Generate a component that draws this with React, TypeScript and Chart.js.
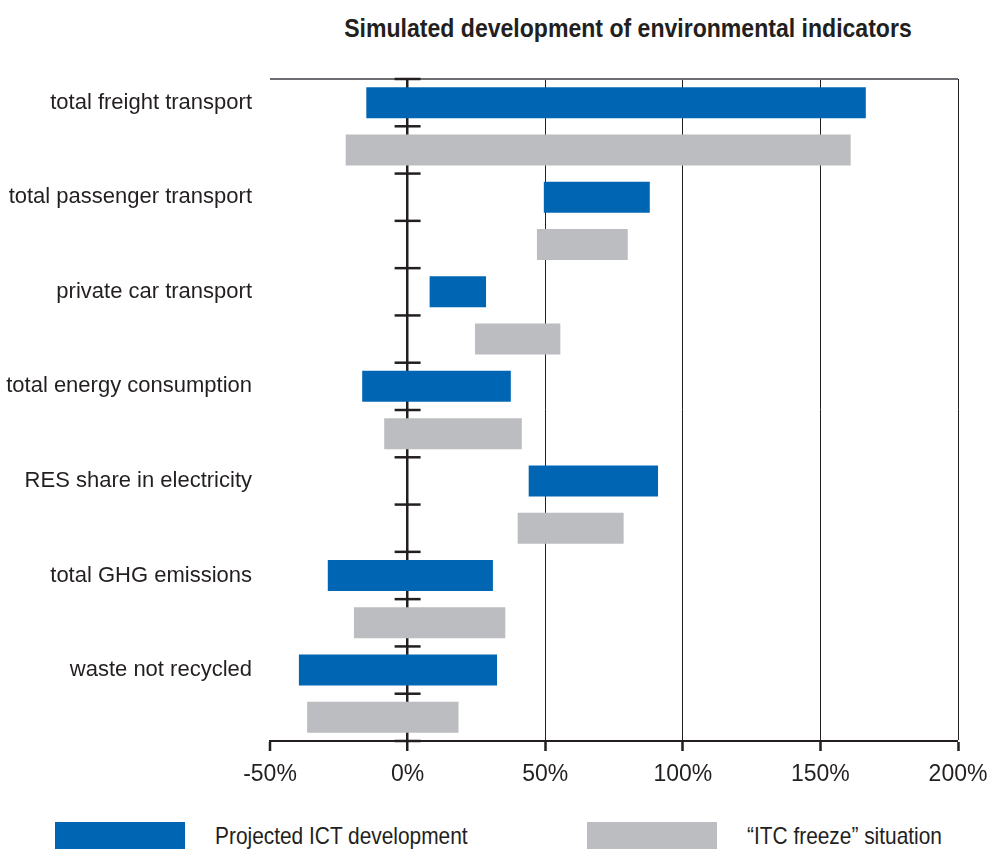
import React, { useEffect, useRef } from "react";
import { Chart, registerables } from "chart.js";

Chart.register(...registerables);

const categories = [
  "total freight transport",
  "total passenger transport",
  "private car transport",
  "total energy consumption",
  "RES share in electricity",
  "total GHG emissions",
  "waste not recycled",
];
const ictLow = [-15, 49.5, 8, -16.5, 44, -29, -39.5];
const ictHigh = [166.5, 88, 28.5, 37.5, 91, 31, 32.5];
const freezeLow = [-22.5, 47, 24.5, -8.5, 40, -19.5, -36.5];
const freezeHigh = [161, 80, 55.5, 41.5, 78.5, 35.5, 18.5];
const xTicks = [-50, 0, 50, 100, 150, 200];

const seriesNames = ["Projected ICT development", "\u201CITC freeze\u201D situation"];
const BLUE = "#0066b3";
const GREY = "#bcbdc0";
const INK = "#231f20";
const FONT = "'Liberation Sans', Arial, sans-serif";

const framePlugin = {
  id: "frame",
  beforeDatasetsDraw(chart: any) {
    const { ctx, chartArea, scales } = chart;
    const x = scales.x;
    const y = scales.y;
    ctx.save();
    ctx.strokeStyle = "#6d6e71";
    ctx.lineWidth = 2;
    ctx.beginPath();
    ctx.moveTo(chartArea.left, chartArea.top);
    ctx.lineTo(chartArea.right, chartArea.top);
    ctx.stroke();
    const x0 = x.getPixelForValue(0);
    const step = y.getPixelForValue(1) - y.getPixelForValue(0);
    const n = y.getLabels().length;
    ctx.strokeStyle = INK;
    ctx.lineWidth = 2.5;
    for (let k = 0; k <= n; k++) {
      const yy = y.getPixelForValue(0) - step / 2 + k * step;
      ctx.beginPath();
      ctx.moveTo(x0 - 13, yy);
      ctx.lineTo(x0 + 13, yy);
      ctx.stroke();
    }
    ctx.restore();
  },
};

export default function App() {
  const ref = useRef<HTMLCanvasElement>(null);
  useEffect(() => {
    const rowLabels = categories.flatMap((c) => [c, ""]);
    const ictData = categories.flatMap((_, i) => [[ictLow[i], ictHigh[i]], null]);
    const freezeData = categories.flatMap((_, i) => [null, [freezeLow[i], freezeHigh[i]]]);
    const chart = new Chart(ref.current as HTMLCanvasElement, {
      type: "bar",
      data: {
        labels: rowLabels,
        datasets: [
          {
            label: seriesNames[0],
            data: ictData as any,
            backgroundColor: BLUE,
            grouped: false,
            barPercentage: 0.655,
            categoryPercentage: 1,
          } as any,
          {
            label: seriesNames[1],
            data: freezeData as any,
            backgroundColor: GREY,
            grouped: false,
            barPercentage: 0.655,
            categoryPercentage: 1,
          } as any,
        ],
      },
      options: {
        indexAxis: "y",
        responsive: false,
        animation: false,
        layout: { padding: { top: 79, right: 30, left: 0, bottom: 0 } },
        plugins: {
          legend: { display: false },
          tooltip: { enabled: false },
          title: { display: false },
        },
        scales: {
          x: {
            type: "linear",
            min: xTicks[0],
            max: xTicks[xTicks.length - 1],
            afterBuildTicks: (s: any) => {
              s.ticks = xTicks.map((v) => ({ value: v }));
            },
            afterFit: (s: any) => {
              s.height = 59;
              s.paddingLeft = 0;
              s.paddingRight = 0;
            },
            ticks: {
              callback: (v: any) => v + "%",
              color: INK,
              font: { family: FONT, size: 23 },
              padding: 10,
              maxRotation: 0,
            },
            grid: {
              color: INK,
              lineWidth: (c: any) => (c.tick && c.tick.value === -50 ? 0 : c.tick && c.tick.value === 0 ? 2.5 : 1),
              tickLength: 10,
              tickWidth: 2.5,
              tickColor: INK,
            },
            border: { display: true, color: INK, width: 2 },
          },
          y: {
            type: "category",
            afterFit: (s: any) => {
              s.width = 270;
              s.paddingTop = 0;
              s.paddingBottom = 0;
            },
            ticks: {
              autoSkip: false,
              color: INK,
              font: { family: FONT, size: 22 },
              padding: 18,
            },
            grid: { display: false, drawTicks: false, tickLength: 0 },
            border: { display: false },
          },
        },
      },
      plugins: [framePlugin],
    } as any);
    return () => chart.destroy();
  }, []);

  return (
    <div style={{ position: "fixed", left: 0, top: 0, width: 988, height: 849, background: "#fff", overflow: "hidden" }}>
      <div
        style={{
          position: "absolute",
          left: 300,
          width: 656,
          top: 15,
          textAlign: "center",
          fontFamily: FONT,
          fontWeight: "bold",
          fontSize: 26.5,
          lineHeight: "26px",
          color: INK,
          whiteSpace: "nowrap",
          transform: "scaleX(0.87)",
          transformOrigin: "50% 50%",
        }}
      >
        Simulated development of environmental indicators
      </div>
      <canvas ref={ref} width={988} height={800} style={{ position: "absolute", left: 0, top: 0 }} />
      {[0, 1].map((i) => (
        <div
          key={i}
          style={{
            position: "absolute",
            left: i === 0 ? 55 : 587,
            top: 822,
            display: "flex",
            alignItems: "center",
            height: 27,
          }}
        >
          <div style={{ width: 130, height: 27, background: i === 0 ? BLUE : GREY, flex: "none" }} />
          <span
            style={{
              marginLeft: 30,
              fontFamily: FONT,
              fontSize: 24,
              color: INK,
              whiteSpace: "nowrap",
              lineHeight: "27px",
              transform: "scaleX(0.87)",
              transformOrigin: "0 50%",
              display: "inline-block",
            }}
          >
            {seriesNames[i]}
          </span>
        </div>
      ))}
    </div>
  );
}
